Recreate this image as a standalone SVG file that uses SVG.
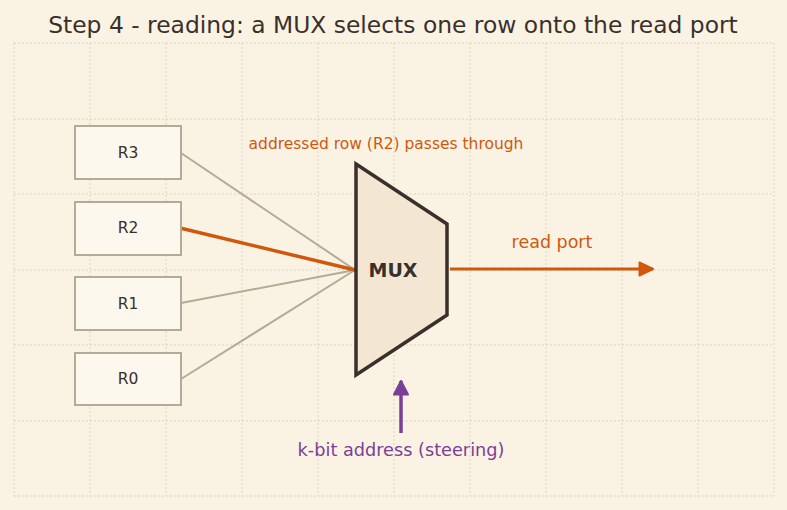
<svg xmlns="http://www.w3.org/2000/svg" width="787" height="510" viewBox="0 0 787 510">
<style>
text{font-family:"DejaVu Sans","Liberation Sans",sans-serif}
.grid{stroke:#ddd2bf;stroke-width:1;stroke-dasharray:2 2;fill:none}
.box{fill:#fdf8ee;stroke:#b4aa98;stroke-width:2}
.lbl{font-size:15.5px;fill:#3a302a;text-anchor:middle;dominant-baseline:central}
.wire{stroke:#b4aa98;stroke-width:2;fill:none}
</style>
<defs>
<marker id="ao" viewBox="0 0 16 16" refX="15" refY="8" markerWidth="16" markerHeight="16" markerUnits="userSpaceOnUse" orient="auto"><path d="M1.5,1.5 L15,8 L1.5,14.5 z" fill="#d0580c" stroke="#d0580c" stroke-width="2" stroke-linejoin="round"/></marker>
<marker id="ap" viewBox="0 0 16 16" refX="15" refY="8" markerWidth="16" markerHeight="16" markerUnits="userSpaceOnUse" orient="auto"><path d="M1.5,1 L15,8 L1.5,15 z" fill="#7b3f98" stroke="#7b3f98" stroke-width="2" stroke-linejoin="round"/></marker>
</defs>
<rect width="787" height="510" fill="#faf3e4"/>
<text x="393" y="33" font-size="23.4" fill="#3a302a" text-anchor="middle">Step 4 - reading: a MUX selects one row onto the read port</text>
<g id="grid" class="grid">
<path d="M14,43V496M90,43V496M166,43V496M242,43V496M318,43V496M394,43V496M470,43V496M546,43V496M622,43V496M698,43V496M774,43V496"/>
<path d="M14,43H774M14,119H774M14,194H774M14,270H774M14,345H774M14,421H774M14,496H774"/>
</g>
<g id="connectors">
<line class="wire" x1="181" y1="153" x2="355" y2="270"/>
<line class="wire" x1="181" y1="303" x2="355" y2="270"/>
<line class="wire" x1="181" y1="379" x2="355" y2="270"/>
<line x1="180" y1="228" x2="355" y2="270" stroke="#d0580c" stroke-width="3.5"/>
<line x1="450" y1="269" x2="653" y2="269" stroke="#d0580c" stroke-width="3" marker-end="url(#ao)"/>
<line x1="401" y1="433" x2="401" y2="381" stroke="#7b3f98" stroke-width="3.5" marker-end="url(#ap)"/>
</g>
<g id="R3"><rect class="box" x="75" y="126" width="106" height="53"/><text class="lbl" x="128" y="153">R3</text></g>
<g id="R2"><rect class="box" x="75" y="202" width="106" height="53"/><text class="lbl" x="128" y="228">R2</text></g>
<g id="R1"><rect class="box" x="75" y="277" width="106" height="53"/><text class="lbl" x="128" y="304">R1</text></g>
<g id="R0"><rect class="box" x="75" y="353" width="106" height="52"/><text class="lbl" x="128" y="379">R0</text></g>
<g id="mux">
<path d="M356,164 L447,224 L447,315 L356,375 Z" fill="#f3e7d3" stroke="#3a2f2a" stroke-width="3.5" stroke-linejoin="miter"/>
<text x="393" y="270" font-size="19" font-weight="bold" fill="#3a302a" text-anchor="middle" dominant-baseline="central">MUX</text>
</g>
<text x="386" y="149" font-size="15.5" fill="#d0580c" text-anchor="middle">addressed row (R2) passes through</text>
<text x="552" y="248" font-size="17.5" fill="#d0580c" text-anchor="middle">read port</text>
<text x="401" y="456" font-size="17.7" fill="#7b3f98" text-anchor="middle">k-bit address (steering)</text>
</svg>
